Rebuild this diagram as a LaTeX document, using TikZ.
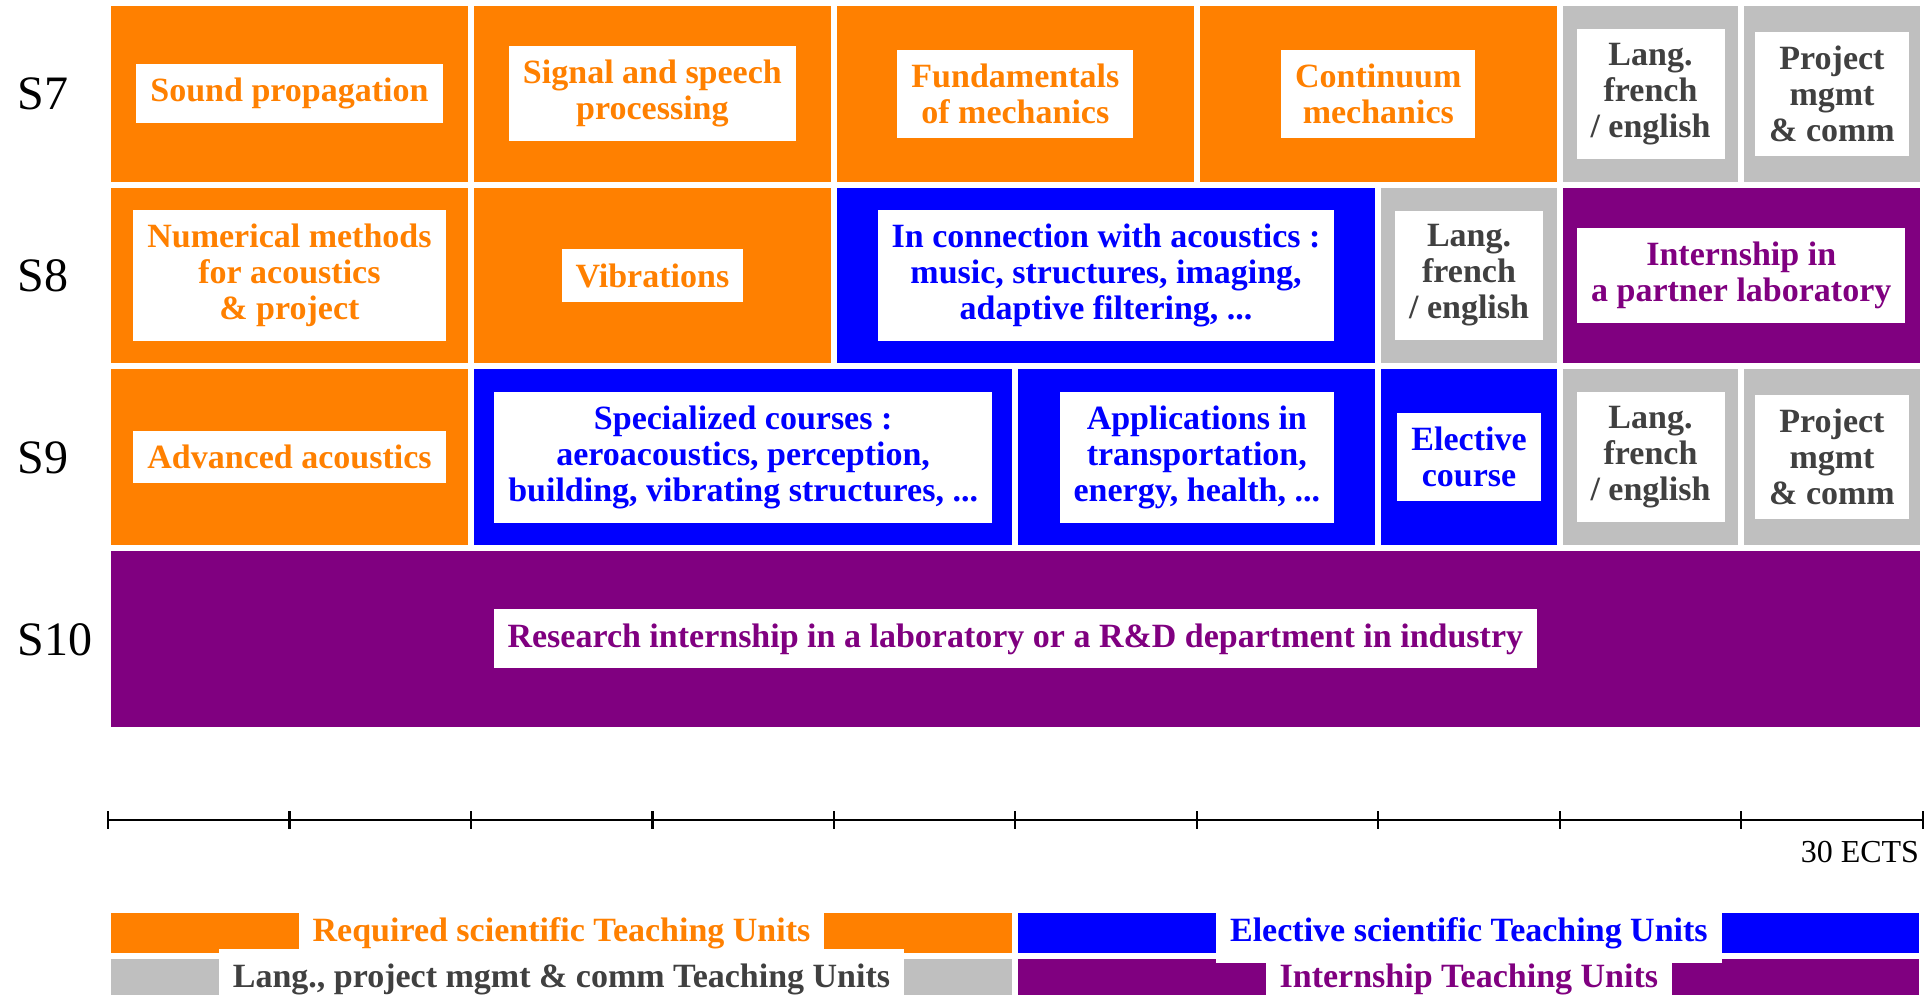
\documentclass[tikz,border=0pt]{standalone}
\usepackage{fontspec}
\setmainfont{Liberation Serif}
\definecolor{corange}{RGB}{255,128,0}
\definecolor{cblue}{RGB}{0,0,255}
\definecolor{cpurple}{RGB}{128,0,128}
\definecolor{cgray}{RGB}{191,191,191}
\definecolor{cdark}{RGB}{64,64,64}
\tikzset{
  cellbox/.style={rectangle, inner sep=0pt, minimum height=87.85pt, draw=none},
  labelbox/.style={rectangle, fill=white, inner sep=7pt, align=center, font=\fontsize{17}{18}\selectfont\bfseries},
  semlabel/.style={anchor=base west, inner sep=0pt, font=\fontsize{24}{28}\selectfont},
  legbar/.style={rectangle, inner sep=0pt, minimum height=20pt, minimum width=450.5pt},
  axisline/.style={line width=1.3pt},
  tickmark/.style={line width=1.1pt},
}
% name, from ECTS, to ECTS, row, fill, text colour, text
\newcommand\ucell[7]{%
  \pgfmathsetmacro\cx{54+(#2+#3)/2*30.245}%
  \pgfmathsetmacro\cw{(#3-#2)*30.245-3}%
  \pgfmathsetmacro\cy{-(1.5+(#4+0.5)*90.85)}%
  \node[cellbox, fill=#5, minimum width=\cw pt] (#1) at (\cx pt,\cy pt) {};
  \node[labelbox, text=#6] (#1-t) at (#1.center) {#7};
}
\begin{document}
\begin{tikzpicture}
\useasboundingbox (0,0) rectangle (966pt,-497.5pt);
% semester labels
\node[semlabel] (s7) at (8.5pt,-55pt) {S7};
\node[semlabel] (s8) at (8.5pt,-145.85pt) {S8};
\node[semlabel] (s9) at (8.5pt,-236.7pt) {S9};
\node[semlabel] (s10) at (8.5pt,-327.55pt) {S10};
% S7
\ucell{a1}{0}{6}{0}{corange}{corange}{Sound propagation}
\ucell{a2}{6}{12}{0}{corange}{corange}{Signal and speech\\processing}
\ucell{a3}{12}{18}{0}{corange}{corange}{Fundamentals\\of mechanics}
\ucell{a4}{18}{24}{0}{corange}{corange}{Continuum\\mechanics}
\ucell{a5}{24}{27}{0}{cgray}{cdark}{Lang.\\french\\/ english}
\ucell{a6}{27}{30}{0}{cgray}{cdark}{Project\\mgmt\\\& comm}
% S8
\ucell{b1}{0}{6}{1}{corange}{corange}{Numerical methods\\for acoustics\\\& project}
\ucell{b2}{6}{12}{1}{corange}{corange}{Vibrations}
\ucell{b3}{12}{21}{1}{cblue}{cblue}{In connection with acoustics :\\music, structures, imaging,\\adaptive filtering, ...}
\ucell{b4}{21}{24}{1}{cgray}{cdark}{Lang.\\french\\/ english}
\ucell{b5}{24}{30}{1}{cpurple}{cpurple}{Internship in\\a partner laboratory}
% S9
\ucell{c1}{0}{6}{2}{corange}{corange}{Advanced acoustics}
\ucell{c2}{6}{15}{2}{cblue}{cblue}{Specialized courses :\\aeroacoustics, perception,\\building, vibrating structures, ...}
\ucell{c3}{15}{21}{2}{cblue}{cblue}{Applications in\\transportation,\\energy, health, ...}
\ucell{c4}{21}{24}{2}{cblue}{cblue}{Elective\\course}
\ucell{c5}{24}{27}{2}{cgray}{cdark}{Lang.\\french\\/ english}
\ucell{c6}{27}{30}{2}{cgray}{cdark}{Project\\mgmt\\\& comm}
% S10
\ucell{d1}{0}{30}{3}{cpurple}{cpurple}{Research internship in a laboratory or a R\&D department in industry}
% axis
\coordinate (ax0) at (54pt,-410pt);
\coordinate (ax30) at (961.35pt,-410pt);
\draw[axisline] (ax0) -- (ax30);
\foreach \k in {0,...,10} \draw[tickmark] ({54pt+\k*90.735pt},-405.5pt) -- ++(0,-9pt);
\node[anchor=base east, inner sep=0pt, font=\fontsize{16}{19}\selectfont] (ects) at (959.7pt,-431pt) {30 ECTS};
% legend
\node[legbar, fill=corange] (lo) at (280.75pt,-466.5pt) {};
\node[legbar, fill=cblue] (lb) at (734.43pt,-466.5pt) {};
\node[legbar, fill=cgray] (lg) at (280.75pt,-489.5pt) {};
\node[legbar, fill=cpurple] (lp) at (734.43pt,-489.5pt) {};
\node[labelbox, text=corange] (lo-t) at (lo.center) {Required scientific Teaching Units};
\node[labelbox, text=cblue] (lb-t) at (lb.center) {Elective scientific Teaching Units};
\node[labelbox, text=cdark] (lg-t) at (lg.center) {Lang., project mgmt \& comm Teaching Units};
\node[labelbox, text=cpurple] (lp-t) at (lp.center) {Internship Teaching Units};
\end{tikzpicture}
\end{document}
